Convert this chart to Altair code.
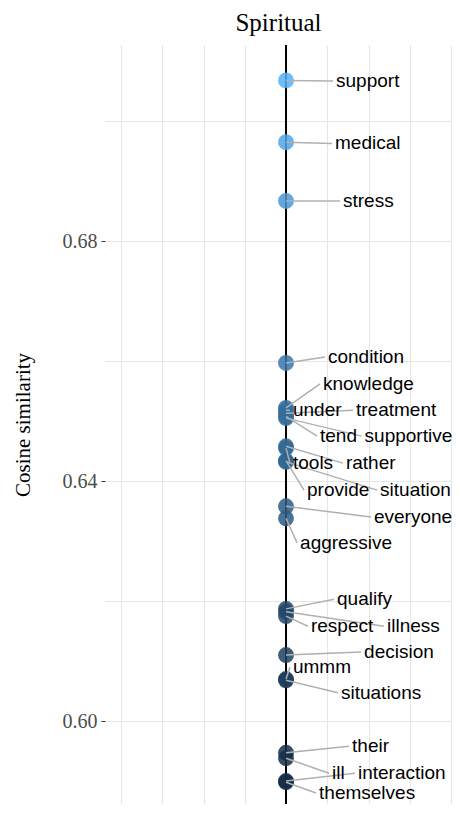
import altair as alt
import pandas as pd

# Words, cosine similarity, and label anchor positions (data units)
words = ["support", "medical", "stress", "condition", "knowledge", "under", "treatment",
         "tend", "supportive", "rather", "tools", "provide", "situation", "everyone",
         "aggressive", "qualify", "illness", "respect", "decision", "ummm", "situations",
         "their", "ill", "interaction", "themselves"]
similarity = [0.7068, 0.6965, 0.6867, 0.6597, 0.6522, 0.6518, 0.6513,
              0.6508, 0.6505, 0.6458, 0.6455, 0.6434, 0.6432, 0.6358,
              0.6338, 0.6187, 0.6182, 0.6175, 0.6110, 0.6070, 0.6068,
              0.5947, 0.5938, 0.5900, 0.5898]
label_x = [0.285, 0.279, 0.327, 0.236, 0.206, 0.024, 0.406,
           0.188, 0.458, 0.345, 0.024, 0.109, 0.552, 0.515,
           0.067, 0.291, 0.594, 0.133, 0.455, 0.024, 0.315,
           0.382, 0.261, 0.418, 0.182]
label_y = [0.7067, 0.6963, 0.6867, 0.6607, 0.6562, 0.6518, 0.6518,
           0.6475, 0.6475, 0.6430, 0.6430, 0.6385, 0.6385, 0.6340,
           0.6297, 0.6203, 0.6158, 0.6158, 0.6115, 0.6090, 0.6047,
           0.5958, 0.5913, 0.5913, 0.5880]

y_grid = [0.60, 0.62, 0.64, 0.66, 0.68, 0.70]
y_major = [0.60, 0.64, 0.68]
x_grid = [-1.0, -0.75, -0.5, -0.25, 0.0, 0.25, 0.5, 0.75, 1.0]
x_major = [-1.0, -0.5, 0.0, 0.5, 1.0]

df = pd.DataFrame({"word": words, "sim": similarity, "x0": [0.0] * len(words),
                   "lx": label_x, "ly": label_y})

xs = alt.Scale(domain=[-1.097, 1.006], nice=False, zero=False)
ys = alt.Scale(domain=[0.58617, 0.7127], nice=False, zero=False)

grid_color = "#e6e6e6"
xaxis = alt.Axis(
    values=x_grid, grid=True, gridColor=grid_color, gridWidth=1.2,
    labels=False, title=None, domain=False, tickSize=4,
    tickColor={"condition": {"test": "indexof(%s, datum.value) >= 0" % x_major,
                             "value": "#333333"}, "value": "transparent"},
)
yaxis = alt.Axis(
    values=y_grid, grid=True, gridColor=grid_color, gridWidth=1.2,
    labelExpr="indexof(%s, datum.value) >= 0 ? format(datum.value, '.2f') : ''" % y_major,
    domain=False, tickSize=4,
    tickColor={"condition": {"test": "indexof(%s, datum.value) >= 0" % y_major,
                             "value": "#333333"}, "value": "transparent"},
    labelFont="Liberation Serif", labelFontSize=20, labelColor="#4d4d4d", labelPadding=4,
    title="Cosine similarity", titleFont="Liberation Serif", titleFontSize=21,
    titleColor="black", titleFontWeight="normal", titlePadding=28,
    minExtent=44, maxExtent=44,
)

base = alt.Chart(df)

vline = alt.Chart(pd.DataFrame({"v": [0.0]})).mark_rule(color="black", strokeWidth=2).encode(
    x=alt.X("v:Q", scale=xs, axis=xaxis)
)

points = base.mark_circle(size=254, opacity=0.85).encode(
    x=alt.X("x0:Q", scale=xs, axis=xaxis),
    y=alt.Y("sim:Q", scale=ys, axis=yaxis),
    color=alt.Color("sim:Q", scale=alt.Scale(range=["#132B43", "#56B1F7"], interpolate="lab"),
                    legend=None),
)

segs = base.mark_rule(color="#b0b0b0", strokeWidth=1.5).encode(
    x=alt.X("x0:Q", scale=xs, axis=xaxis),
    y=alt.Y("sim:Q", scale=ys, axis=yaxis),
    x2="lx:Q",
    y2="ly:Q",
)

labels = base.mark_text(align="left", baseline="middle", dx=3, font="Liberation Sans",
                        fontSize=19, color="black").encode(
    x=alt.X("lx:Q", scale=xs, axis=xaxis),
    y=alt.Y("ly:Q", scale=ys, axis=yaxis),
    text="word:N",
)

chart = alt.layer(vline, points, segs, labels).properties(
    width=347, height=759,
    title=alt.TitleParams("Spiritual", font="Liberation Serif", fontSize=25,
                          fontWeight="normal", color="black", anchor="middle", offset=8),
    autosize=alt.AutoSizeParams(type="none"),
    padding={"left": 97, "top": 37, "right": 0, "bottom": 0},
).configure_view(stroke=None)

chart.save("out.html", embed_options={"renderer": "svg", "actions": False})
